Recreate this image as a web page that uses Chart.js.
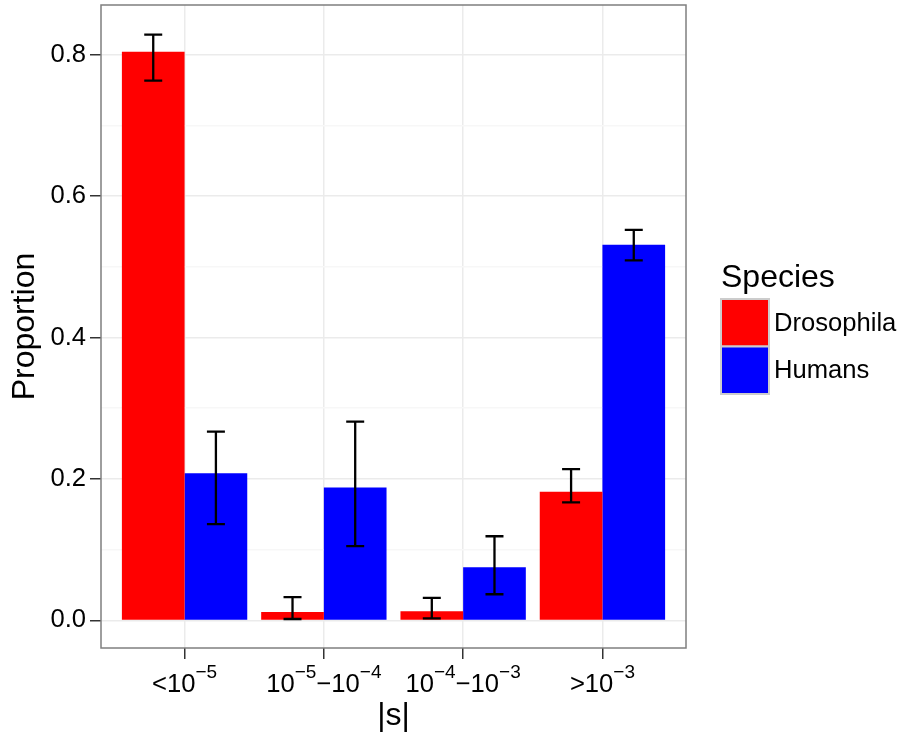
<!DOCTYPE html>
<html>
<head>
<meta charset="utf-8">
<script src="https://cdn.jsdelivr.net/npm/chart.js@4.4.1/dist/chart.umd.min.js"></script>
<style>
  html, body { margin: 0; padding: 0; background: #fff; }
</style>
</head>
<body>
<canvas id="chart" width="903" height="734"></canvas>
<script>
// categories (^{...} marks a superscript) and their positions on the x scale
const categories = ['<10^{−5}', '10^{−5}−10^{−4}', '10^{−4}−10^{−3}', '>10^{−3}'];
const categoryPos = [1, 2, 3, 4];

// proportions
const drosophila = [0.804, 0.012, 0.013, 0.182];
const humans = [0.208, 0.188, 0.075, 0.531];

// error bar ends
const drosophilaLow = [0.763, 0.002, 0.003, 0.167];
const drosophilaHigh = [0.828, 0.033, 0.032, 0.214];
const humansLow = [0.136, 0.105, 0.037, 0.509];
const humansHigh = [0.267, 0.281, 0.119, 0.552];

// labelled y ticks (the others are minor grid lines)
const yTicks = [0.0, 0.2, 0.4, 0.6, 0.8];

const FONT = '"Liberation Sans", Arial, Helvetica, sans-serif';
const isMajor = v => yTicks.some(t => Math.abs(t - v) < 1e-6);

// error bars on top of every bar
const errorBars = {
  id: 'errorBars',
  afterDatasetsDraw(chart) {
    const ctx = chart.ctx;
    const y = chart.scales.y;
    ctx.save();
    ctx.strokeStyle = '#000';
    ctx.lineWidth = 2.3;
    chart.data.datasets.forEach((ds, i) => {
      chart.getDatasetMeta(i).data.forEach((bar, j) => {
        const top = y.getPixelForValue(ds.errHigh[j]);
        const bot = y.getPixelForValue(ds.errLow[j]);
        ctx.beginPath();
        ctx.moveTo(bar.x, top); ctx.lineTo(bar.x, bot);
        ctx.moveTo(bar.x - 9, top); ctx.lineTo(bar.x + 9, top);
        ctx.moveTo(bar.x - 9, bot); ctx.lineTo(bar.x + 9, bot);
        ctx.stroke();
      });
    });
    ctx.restore();
  }
};

// panel border, x tick labels with superscripts, legend
const decorations = {
  id: 'decorations',
  afterDraw(chart) {
    const ctx = chart.ctx;
    const a = chart.chartArea;
    ctx.save();
    ctx.strokeStyle = '#7f7f7f';
    ctx.lineWidth = 1.5;
    ctx.strokeRect(a.left, a.top, a.right - a.left, a.bottom - a.top);

    // x tick labels
    const xs = chart.scales.x;
    ctx.fillStyle = '#000';
    ctx.textBaseline = 'alphabetic';
    ctx.textAlign = 'left';
    const baseFont = '25.6px ' + FONT;
    const supFont = '19px ' + FONT;
    categories.forEach((lab, i) => {
      const parts = lab.split(/\^\{([^}]*)\}/);
      let w = 0;
      parts.forEach((p, k) => {
        ctx.font = k % 2 ? supFont : baseFont;
        w += ctx.measureText(p).width;
      });
      let x = xs.getPixelForValue(categoryPos[i]) - w / 2;
      parts.forEach((p, k) => {
        ctx.font = k % 2 ? supFont : baseFont;
        ctx.fillText(p, x, k % 2 ? 678 : 692);
        x += ctx.measureText(p).width;
      });
    });

    // legend
    ctx.font = '32px ' + FONT;
    ctx.fillText('Species', 721, 287);
    ctx.font = '25.6px ' + FONT;
    ctx.textBaseline = 'middle';
    chart.data.datasets.forEach((ds, i) => {
      const ky = 299 + i * 47.5;
      ctx.fillStyle = ds.backgroundColor;
      ctx.fillRect(721, ky, 48, 47.5);
      ctx.strokeStyle = '#cccccc';
      ctx.lineWidth = 2;
      ctx.strokeRect(721, ky, 48, 47.5);
      ctx.fillStyle = '#000';
      ctx.fillText(ds.label, 774, ky + 24.5);
    });
    ctx.restore();
  }
};

new Chart(document.getElementById('chart'), {
  type: 'bar',
  data: {
    datasets: [
      {
        label: 'Drosophila',
        data: categoryPos.map((x, i) => ({ x, y: drosophila[i] })),
        errLow: drosophilaLow,
        errHigh: drosophilaHigh,
        backgroundColor: '#ff0000'
      },
      {
        label: 'Humans',
        data: categoryPos.map((x, i) => ({ x, y: humans[i] })),
        errLow: humansLow,
        errHigh: humansHigh,
        backgroundColor: '#0000ff'
      }
    ]
  },
  options: {
    responsive: false,
    animation: false,
    categoryPercentage: 0.9,
    barPercentage: 1.0,
    borderWidth: 0,
    layout: { padding: { top: 5, right: 217, left: 0, bottom: 0 } },
    plugins: {
      legend: { display: false },
      tooltip: { enabled: false }
    },
    scales: {
      x: {
        type: 'linear',
        min: 0.4,
        max: 4.6,
        offset: false,
        ticks: { stepSize: 1, includeBounds: false, autoSkip: false, callback: () => '' },
        grid: { offset: false, color: '#ebebeb', lineWidth: 1.5, tickLength: 11, tickColor: '#333', tickWidth: 1.5 },
        border: { display: false },
        title: {
          display: true, text: '|s|', color: '#000', padding: 0,
          font: { family: FONT, size: 32, lineHeight: 1.1 }
        },
        afterFit: s => { s.height = 86; s.paddingLeft = 0; s.paddingRight = 0; }
      },
      y: {
        min: -0.039,
        max: 0.870,
        ticks: {
          stepSize: 0.1, includeBounds: false, autoSkip: false, padding: 4, color: '#000',
          font: { family: FONT, size: 25.6 },
          callback: v => isMajor(v) ? v.toFixed(1) : ''
        },
        grid: {
          color: c => isMajor(c.tick.value) ? '#ebebeb' : '#f7f7f7',
          lineWidth: 1.5,
          tickLength: 11,
          tickColor: c => isMajor(c.tick.value) ? '#333' : 'rgba(0,0,0,0)',
          tickWidth: 1.5
        },
        border: { display: false },
        title: {
          display: true, text: 'Proportion', color: '#000', padding: { top: 8, bottom: 0 },
          font: { family: FONT, size: 32, lineHeight: 1.1 }
        },
        afterFit: s => { s.width = 101; s.paddingTop = 0; s.paddingBottom = 0; }
      }
    }
  },
  plugins: [errorBars, decorations]
});
</script>
</body>
</html>
